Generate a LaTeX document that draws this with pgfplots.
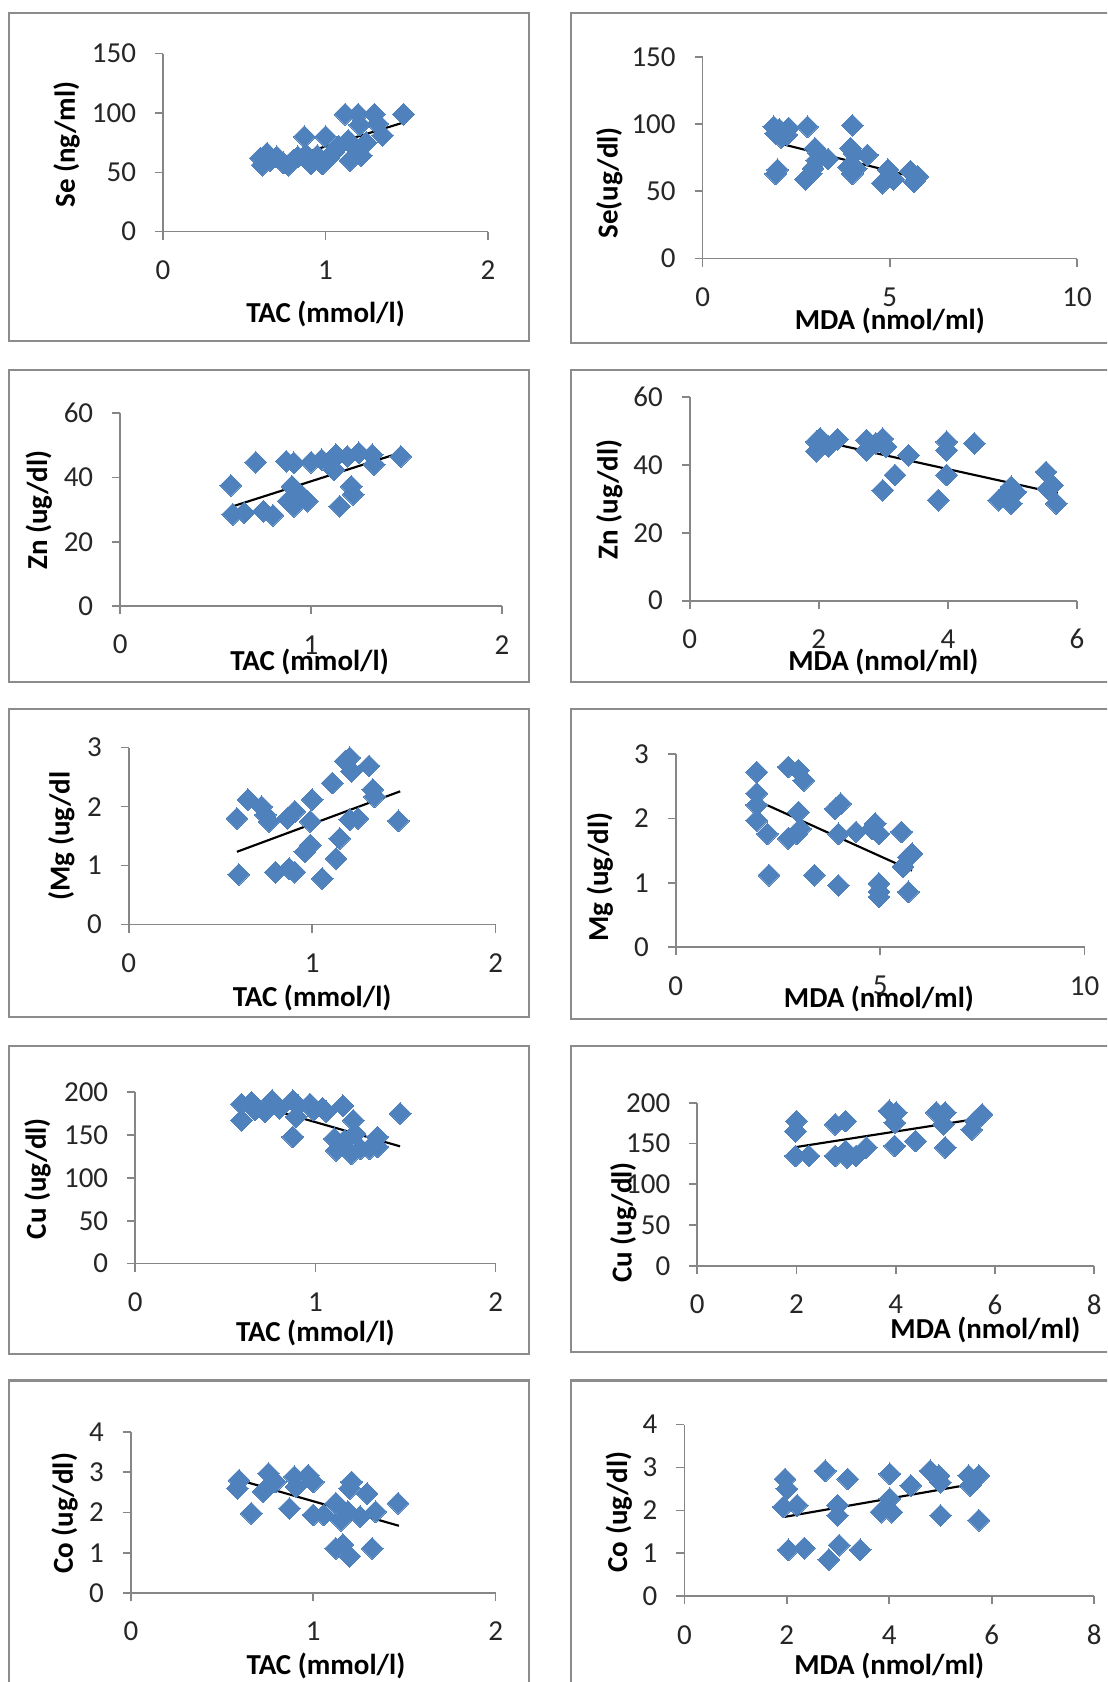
\documentclass[border=0pt]{standalone}
\usepackage{pgfplots}
\pgfplotsset{compat=1.18}
\usepackage{fontspec}
\setmainfont{Carlito}
\definecolor{mk}{HTML}{4F81BD}
\definecolor{ax}{HTML}{868686}
\definecolor{fr}{HTML}{8C8C8C}
\pgfplotsset{
  panel/.style={
    scale only axis, anchor=south west,
    axis lines=left, axis line style={-, draw=ax, line width=1.5pt},
    tick align=outside, major tick length=7.5pt,
    tick style={draw=ax, line width=1.5pt},
    xmin=0, ymin=0,
    /pgf/number format/assume math mode=true,
    tick label style={font=\fontsize{27}{30}\selectfont, text=black!85},
    xticklabel style={anchor=center, inner sep=0pt, yshift=-28.5pt},
    yticklabel style={anchor=east, inner sep=0pt, xshift=-17.5pt},
    label style={font=\fontsize{27}{30}\selectfont\bfseries, anchor=center, inner sep=0pt},
    clip=false,
  },
  pts/.style={only marks, mark=square*, mark size=7.2pt, mark options={rotate=45, fill=mk, draw=mk, line width=0pt}},
  trend/.style={no marks, draw=black, line width=2pt},
}
\begin{document}
\begin{tikzpicture}
\useasboundingbox (0pt,0pt) rectangle (1032pt,1568pt);
\clip (0pt,0pt) rectangle (1032pt,1568pt);
\fill[white] (0pt,0pt) rectangle (1032pt,1568pt);
% frames
\draw[fr, line width=2pt] (8pt,1250pt) rectangle (493pt,1556pt);
\draw[fr, line width=2pt] (532pt,1248pt) rectangle (1045pt,1556pt);
\draw[fr, line width=2pt] (8pt,932pt) rectangle (493pt,1223pt);
\draw[fr, line width=2pt] (532pt,932pt) rectangle (1045pt,1223pt);
\draw[fr, line width=2pt] (8pt,620pt) rectangle (493pt,907pt);
\draw[fr, line width=2pt] (532pt,618pt) rectangle (1045pt,907pt);
\draw[fr, line width=2pt] (8pt,306pt) rectangle (493pt,593pt);
\draw[fr, line width=2pt] (532pt,308pt) rectangle (1045pt,593pt);
\draw[fr, line width=2pt] (8pt,-10pt) rectangle (493pt,281pt);
\draw[fr, line width=2pt] (532pt,-10pt) rectangle (1045pt,281pt);

% P1
\begin{axis}[panel, at={(152pt,1352pt)}, width=303pt, height=166pt,
  xmax=2, ymax=150, xtick={0,1,2}, ytick={0,50,100,150},
  xlabel={TAC (mmol/l)}, ylabel={Se (ng/ml)},
  xlabel style={at={(axis description cs:0.5,-0.464)}},
  ylabel style={at={(axis description cs:-0.297,0.49)}}]
\addplot[pts] coordinates {(0.60,62)(0.61,56)(0.64,66)(0.66,60)(0.70,63)(0.74,58)(0.77,56)(0.80,60)(0.83,63)(0.87,80)(0.88,65)(0.91,57)(0.95,64)(0.98,57)(1.00,80)(1.02,62)(1.05,67)(1.08,72)(1.12,99)(1.14,77)(1.15,60)(1.18,71)(1.20,99)(1.21,90)(1.22,64)(1.25,75)(1.30,99)(1.32,91)(1.35,81)(1.48,99)};
\addplot[trend] coordinates {(0.59,54.5)(1.48,92)};
\end{axis}

% P2
\begin{axis}[panel, at={(655pt,1327pt)}, width=349pt, height=188pt,
  xmax=10, ymax=150, xtick={0,5,10}, ytick={0,50,100,150},
  xlabel={MDA (nmol/ml)}, ylabel={Se(ug/dl)},
  xlabel style={at={(axis description cs:0.5,-0.309)}},
  ylabel style={at={(axis description cs:-0.249,0.375)}}]
\addplot[pts] coordinates {(1.90,98)(1.95,93)(2.05,96)(2.10,90)(2.30,97)(2.25,92)(1.95,63)(2.00,66)(2.80,98)(2.75,59)(2.90,63)(2.95,67)(3.00,82)(3.10,78)(3.05,73)(3.35,74)(3.90,68)(3.95,82)(4.00,99)(4.00,63)(4.10,67)(4.05,78)(4.40,77)(4.80,56)(4.95,66)(5.00,61)(5.10,59)(5.55,65)(5.65,57)(5.75,61)};
\addplot[trend] coordinates {(1.92,86.5)(5.73,60)};
\end{axis}

% P3
\begin{axis}[panel, at={(112pt,1003pt)}, width=356pt, height=180pt,
  xmax=2, ymax=60, xtick={0,1,2}, ytick={0,20,40,60},
  xlabel={TAC (mmol/l)}, ylabel={Zn (ug/dl)},
  xlabel style={at={(axis description cs:0.496,-0.289)}},
  ylabel style={at={(axis description cs:-0.213,0.497)}}]
\addplot[pts] coordinates {(0.58,37.5)(0.59,28.5)(0.65,29)(0.71,44.7)(0.75,29.5)(0.80,28.2)(0.87,45)(0.91,44.5)(0.88,32.6)(0.90,37.2)(0.91,31)(0.955,34)(0.98,32.6)(1.00,44.7)(1.055,45.5)(1.10,44.5)(1.12,42.4)(1.13,47)(1.15,31)(1.19,46.5)(1.21,37.2)(1.22,34.7)(1.25,47.6)(1.32,47)(1.33,44)(1.47,46.5)};
\addplot[trend] coordinates {(0.58,30.8)(1.47,47.7)};
\end{axis}

% P4
\begin{axis}[panel, at={(643pt,1008pt)}, width=361pt, height=190pt,
  xmax=6, ymax=60, xtick={0,2,4,6}, ytick={0,20,40,60},
  xlabel={MDA (nmol/ml)}, ylabel={Zn (ug/dl)},
  xlabel style={at={(axis description cs:0.5,-0.3)}},
  ylabel style={at={(axis description cs:-0.208,0.497)}}]
\addplot[pts] coordinates {(1.96,46.8)(1.96,44)(2.02,47.8)(2.15,45.5)(2.29,47.5)(2.74,47.3)(2.74,44.3)(2.88,46.3)(2.99,47.7)(3.04,45.3)(2.99,32.5)(3.18,37)(3.39,42.8)(3.85,29.6)(3.98,46.8)(3.98,44.3)(3.98,37)(4.41,46.3)(4.79,29.6)(4.90,31.6)(4.98,33.5)(4.98,28.6)(5.05,32)(5.52,37.9)(5.55,33)(5.62,34)(5.68,28.6)};
\addplot[trend] coordinates {(1.96,47.3)(5.70,31.6)};
\end{axis}

% P5
\begin{axis}[panel, at={(120pt,706pt)}, width=342pt, height=165pt,
  xmax=2, ymax=3, xtick={0,1,2}, ytick={0,1,2,3},
  xlabel={TAC (mmol/l)}, ylabel={(Mg (ug/dl},
  xlabel style={at={(axis description cs:0.5,-0.412)}},
  ylabel style={at={(axis description cs:-0.184,0.5)}}]
\addplot[pts] coordinates {(0.59,1.80)(0.60,0.85)(0.65,2.12)(0.725,2.0)(0.745,1.86)(0.765,1.75)(0.80,0.89)(0.865,1.80)(0.875,0.95)(0.905,1.92)(0.905,0.89)(0.96,1.235)(0.99,1.35)(1.00,2.12)(0.99,1.75)(1.055,0.78)(1.11,2.4)(1.13,1.12)(1.15,1.46)(1.18,2.77)(1.205,2.83)(1.215,2.6)(1.205,1.78)(1.25,1.80)(1.31,2.69)(1.33,2.29)(1.34,2.17)(1.47,1.76)};
\addplot[trend] coordinates {(0.59,1.235)(1.48,2.26)};
\end{axis}

% P6
\begin{axis}[panel, at={(630pt,685pt)}, width=381pt, height=180pt,
  xmax=10, ymax=3, xtick={0,5,10}, ytick={0,1,2,3},
  xlabel={MDA (nmol/ml)}, ylabel={Mg (ug/dl)},
  xlabel style={at={(axis description cs:0.497,-0.267)}},
  ylabel style={at={(axis description cs:-0.186,0.363)}}]
\addplot[pts] coordinates {(1.98,2.72)(1.98,2.39)(1.98,2.21)(1.98,1.97)(2.24,1.76)(2.28,1.12)(2.75,2.80)(3.00,2.75)(3.13,2.59)(3.00,2.10)(3.05,1.84)(2.75,1.69)(2.96,1.76)(3.39,1.12)(3.90,2.15)(4.03,2.23)(3.98,1.76)(3.98,0.96)(4.41,1.79)(4.80,1.84)(4.88,1.92)(4.97,1.76)(4.97,0.99)(4.97,0.86)(4.97,0.78)(5.52,1.79)(5.56,1.25)(5.69,1.40)(5.78,1.45)(5.69,0.86)};
\addplot[trend] coordinates {(1.98,2.28)(5.78,1.19)};
\end{axis}

% P7
\begin{axis}[panel, at={(126pt,390pt)}, width=336pt, height=160pt,
  xmax=2, ymax=200, xtick={0,1,2}, ytick={0,50,100,150,200},
  xlabel={TAC (mmol/l)}, ylabel={Cu (ug/dl)},
  xlabel style={at={(axis description cs:0.5,-0.406)}},
  ylabel style={at={(axis description cs:-0.271,0.495)}}]
\addplot[pts] coordinates {(0.59,167)(0.59,186)(0.645,188)(0.665,179)(0.72,177)(0.76,190)(0.80,181)(0.875,190)(0.875,147.6)(0.905,184)(0.893,171)(0.97,186)(0.99,179)(1.04,181)(1.06,177)(1.105,145.6)(1.115,132)(1.153,184)(1.163,143.7)(1.20,128)(1.21,167)(1.22,151.5)(1.25,134)(1.30,134)(1.345,147.6)(1.345,136)(1.47,175)};
\addplot[trend] coordinates {(0.59,189.5)(1.47,136.7)};
\end{axis}

% P8
\begin{axis}[panel, at={(650pt,388pt)}, width=370pt, height=152pt,
  xmax=8, ymax=200, xtick={0,2,4,6,8}, ytick={0,50,100,150,200},
  xlabel={MDA (nmol/ml)}, ylabel={Cu (ug/dl)},
  xlabel style={at={(axis description cs:0.726,-0.395)}},
  ylabel style={at={(axis description cs:-0.186,0.265)}}]
\addplot[pts] coordinates {(2.00,177.5)(1.98,165)(1.98,134.7)(2.25,134.7)(2.78,173.5)(2.78,134.7)(2.99,177.5)(2.99,140.8)(3.02,132.7)(3.20,134.7)(3.41,145)(3.87,190)(4.01,188)(3.98,175.5)(3.98,147)(4.40,153)(4.82,188)(5.00,188)(4.96,173.5)(5.00,145)(5.53,167)(5.60,177.5)(5.74,185.7)};
\addplot[trend] coordinates {(2.0,145.7)(5.78,181.6)};
\end{axis}

% P9
\begin{axis}[panel, at={(122pt,83pt)}, width=340pt, height=150pt,
  xmax=2, ymax=4, xtick={0,1,2}, ytick={0,1,2,3,4},
  xlabel={TAC (mmol/l)}, ylabel={Co (ug/dl)},
  xlabel style={at={(axis description cs:0.535,-0.453)}},
  ylabel style={at={(axis description cs:-0.182,0.495)}}]
\addplot[pts] coordinates {(0.584,2.60)(0.593,2.80)(0.66,1.98)(0.726,2.52)(0.755,2.97)(0.792,2.76)(0.87,2.10)(0.897,2.89)(0.906,2.64)(0.972,2.93)(1.0,2.76)(1.0,1.94)(1.058,1.94)(1.124,2.23)(1.124,1.11)(1.152,1.81)(1.162,1.20)(1.20,0.91)(1.21,2.76)(1.20,2.60)(1.19,2.02)(1.257,1.90)(1.295,2.47)(1.323,1.11)(1.342,2.02)(1.465,2.23)};
\addplot[trend] coordinates {(0.584,2.82)(1.47,1.67)};
\end{axis}

% P10
\begin{axis}[panel, at={(638pt,80pt)}, width=382pt, height=160pt,
  xmax=8, ymax=4, xtick={0,2,4,6,8}, ytick={0,1,2,3,4},
  xlabel={MDA (nmol/ml)}, ylabel={Co (ug/dl)},
  xlabel style={at={(axis description cs:0.5,-0.406)}},
  ylabel style={at={(axis description cs:-0.16,0.49)}}]
\addplot[pts] coordinates {(1.965,2.73)(2.0,2.5)(1.93,2.08)(2.03,1.08)(2.2,2.12)(2.34,1.12)(2.75,2.92)(2.82,0.85)(2.99,2.12)(2.99,1.88)(3.02,1.19)(3.19,2.73)(3.43,1.08)(3.84,1.96)(4.01,2.85)(4.01,2.27)(4.05,1.96)(4.42,2.58)(4.80,2.92)(4.97,2.81)(5.0,2.65)(5.0,1.88)(5.55,2.81)(5.58,2.58)(5.75,2.81)(5.75,1.77)};
\addplot[trend] coordinates {(1.965,1.85)(5.75,2.64)};
\end{axis}
\end{tikzpicture}
\end{document}
